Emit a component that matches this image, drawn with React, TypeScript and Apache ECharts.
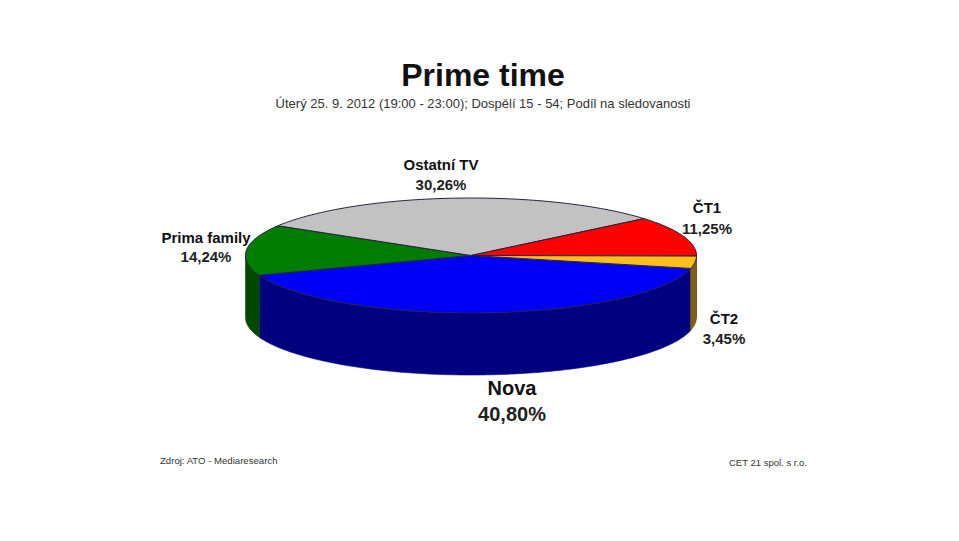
import React, { useEffect, useRef } from "react";
import * as echarts from "echarts";

const categories = ["Nova", "Prima family", "Ostatní TV", "ČT1", "ČT2"];
const shares = [40.8, 14.24, 30.26, 11.25, 3.45];
const topColors = ["#0000f8", "#007c00", "#c2c2c2", "#ff0000", "#ffbe1e"];
const wallColors = ["#000080", "#004a00", "#616161", "#800000", "#7f5f14"];

const titleText = "Prime time";
const subtitleText = "Úterý 25. 9. 2012 (19:00 - 23:00); Dospělí 15 - 54; Podíl na sledovanosti";
const sourceText = "Zdroj: ATO - Mediaresearch";
const ownerText = "CET 21 spol. s r.o.";

// Layout only: pie geometry and label anchors (name centre, value centre)
const CX = 471;
const CY = 255.5;
const RX = 225.5;
const RY = 57.5;
const DEPTH = 62;
const START_DEG = 13;
const labelLayout = [
  { x: 512, nameY: 388, valueY: 414, size: 20 },
  { x: 206, nameY: 237, valueY: 256, size: 15 },
  { x: 441, nameY: 164, valueY: 184, size: 15 },
  { x: 707, nameY: 207, valueY: 228, size: 15 },
  { x: 724, nameY: 318, valueY: 338, size: 15 },
];

const FONT = '"Liberation Sans", Arial, sans-serif';
const total = shares.reduce((a, b) => a + b, 0);
const fmt = (v: number) => v.toFixed(2).replace(".", ",") + "%";

function ring(a0: number, a1: number, dy: number): number[][] {
  const pts: number[][] = [];
  const n = Math.max(2, Math.ceil(Math.abs(a1 - a0)));
  for (let i = 0; i <= n; i++) {
    const t = ((a0 + ((a1 - a0) * i) / n) * Math.PI) / 180;
    pts.push([CX + RX * Math.cos(t), CY + RY * Math.sin(t) + dy]);
  }
  return pts;
}

function renderSlice(params: any, api: any) {
  const i = params.dataIndex;
  let before = 0;
  for (let k = 0; k < i; k++) before += shares[k];
  const value = api.value(0) as number;
  const a0 = START_DEG + (before / total) * 360;
  const a1 = a0 + (value / total) * 360;

  const children: any[] = [];

  // Visible outer wall: the part of the arc on the front half of the ellipse (sin t > 0)
  for (const [lo, hi] of [[0, 180], [360, 540]]) {
    const w0 = Math.max(a0, lo);
    const w1 = Math.min(a1, hi);
    if (w1 > w0) {
      const upper = ring(w0, w1, 0);
      const lower = ring(w1, w0, DEPTH);
      children.push({
        type: "polygon",
        z2: 1,
        shape: { points: upper.concat(lower) },
        style: { fill: wallColors[i], stroke: wallColors[i], lineWidth: 0.6 },
      });
    }
  }

  // Top face
  children.push({
    type: "polygon",
    z2: 2,
    shape: { points: [[CX, CY]].concat(ring(a0, a1, 0)) },
    style: { fill: topColors[i], stroke: "#23233a", lineWidth: 1, lineJoin: "round" },
  });

  // Labels
  const lay = labelLayout[i];
  children.push({
    type: "text",
    z2: 3,
    style: {
      text: categories[i],
      x: lay.x,
      y: lay.nameY,
      align: "center",
      verticalAlign: "middle",
      font: `bold ${lay.size}px ${FONT}`,
      fill: "#111111",
    },
  });
  children.push({
    type: "text",
    z2: 3,
    style: {
      text: fmt(value),
      x: lay.x,
      y: lay.valueY,
      align: "center",
      verticalAlign: "middle",
      font: `bold ${lay.size}px ${FONT}`,
      fill: "#222222",
    },
  });

  return { type: "group", children };
}

export default function App() {
  const ref = useRef<HTMLDivElement>(null);
  useEffect(() => {
    const chart = echarts.init(ref.current!, null, { renderer: "svg" });
    chart.setOption({
      animation: false,
      backgroundColor: "#ffffff",
      title: [
        {
          text: titleText,
          left: 483,
          top: 59,
          padding: 0,
          textAlign: "center",
          textStyle: { fontFamily: FONT, fontSize: 32, fontWeight: "bold", color: "#111111" },
        },
        {
          text: subtitleText,
          left: 483,
          top: 97,
          padding: 0,
          textAlign: "center",
          textStyle: { fontFamily: FONT, fontSize: 13, fontWeight: "normal", color: "#333333" },
        },
        {
          text: sourceText,
          left: 160,
          top: 455,
          padding: 0,
          textStyle: { fontFamily: FONT, fontSize: 9.6, fontWeight: "normal", color: "#333333" },
        },
        {
          text: ownerText,
          left: 729,
          top: 457,
          padding: 0,
          textStyle: { fontFamily: FONT, fontSize: 9.5, fontWeight: "normal", color: "#333333" },
        },
      ],
      series: [
        {
          type: "custom",
          coordinateSystem: "none",
          silent: true,
          renderItem: renderSlice,
          data: categories.map((name, i) => ({ name, value: [shares[i]] })),
        },
      ],
    });
    return () => chart.dispose();
  }, []);
  return <div ref={ref} style={{ position: "fixed", left: 0, top: 0, width: 959, height: 541 }} />;
}
